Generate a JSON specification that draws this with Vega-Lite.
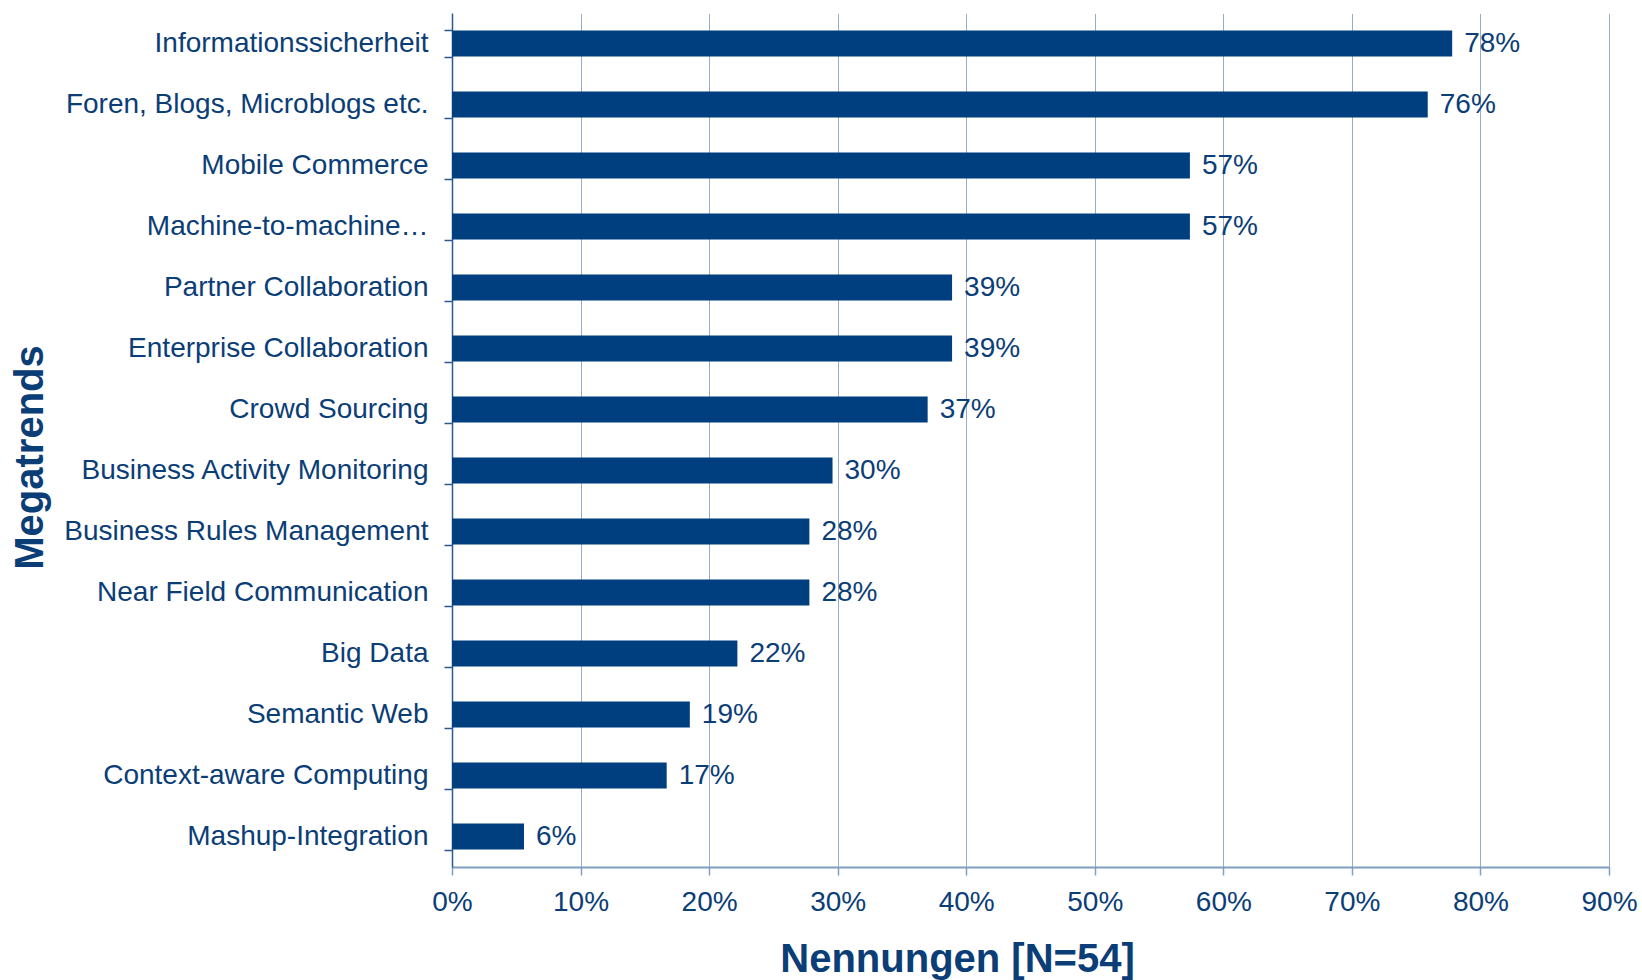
{
  "$schema": "https://vega.github.io/schema/vega-lite/v6.json",
  "width": 1157,
  "height": 854,
  "autosize": {"type": "none"},
  "padding": {"left": 452, "top": 13, "right": 33, "bottom": 113},
  "background": "white",
  "config": {
    "font": "Liberation Sans",
    "view": {"stroke": null}
  },
  "data": {
    "values": [
      {"trend": "Informationssicherheit", "anteil": 0.778},
      {"trend": "Foren, Blogs, Microblogs etc.", "anteil": 0.759},
      {"trend": "Mobile Commerce", "anteil": 0.574},
      {"trend": "Machine-to-machine…", "anteil": 0.574},
      {"trend": "Partner Collaboration", "anteil": 0.389},
      {"trend": "Enterprise Collaboration", "anteil": 0.389},
      {"trend": "Crowd Sourcing", "anteil": 0.370},
      {"trend": "Business Activity Monitoring", "anteil": 0.296},
      {"trend": "Business Rules Management", "anteil": 0.278},
      {"trend": "Near Field Communication", "anteil": 0.278},
      {"trend": "Big Data", "anteil": 0.222},
      {"trend": "Semantic Web", "anteil": 0.185},
      {"trend": "Context-aware Computing", "anteil": 0.167},
      {"trend": "Mashup-Integration", "anteil": 0.056}
    ]
  },
  "encoding": {
    "y": {
      "field": "trend",
      "type": "nominal",
      "sort": null,
      "scale": {"paddingInner": 0.57, "paddingOuter": 0.285},
      "axis": {
        "title": "Megatrends",
        "titleFont": "Liberation Sans",
        "titleFontSize": 40,
        "titleFontWeight": "bold",
        "titleColor": "#0b3d77",
        "titleAngle": -90,
        "titleX": -410,
        "titleY": 444,
        "titleAlign": "center",
        "titleBaseline": "alphabetic",
        "labelFontSize": 28,
        "labelColor": "#0b3d77",
        "labelPadding": 16,
        "labelLimit": 440,
        "tickBand": "extent",
        "tickSize": 8,
        "tickColor": "#2a5a90",
        "tickWidth": 1.5,
        "domainColor": "#2a5a90",
        "domainWidth": 1.5,
        "grid": false
      }
    },
    "x": {
      "field": "anteil",
      "type": "quantitative",
      "scale": {"domain": [0, 0.9], "nice": false},
      "axis": {
        "title": "Nennungen [N=54]",
        "titleFontSize": 40,
        "titleFontWeight": "bold",
        "titleColor": "#0b3d77",
        "titleX": 505,
        "titleY": 104,
        "titleAlign": "center",
        "titleBaseline": "alphabetic",
        "values": [0, 0.1, 0.2, 0.3, 0.4, 0.5, 0.6, 0.7, 0.8, 0.9],
        "format": ".0%",
        "labelFontSize": 28,
        "labelColor": "#0b3d77",
        "labelPadding": 13,
        "labelFlush": false,
        "tickSize": 8,
        "tickColor": "#7f9ec4",
        "tickWidth": 1.5,
        "domainColor": "#7f9ec4",
        "domainWidth": 2,
        "grid": true,
        "gridColor": "#2f5c94",
        "gridDash": [1, 1],
        "gridWidth": 1
      }
    }
  },
  "layer": [
    {
      "mark": {"type": "bar", "color": "#003f7f"}
    },
    {
      "mark": {"type": "text", "align": "left", "baseline": "middle", "dx": 12, "fontSize": 28, "color": "#0b3d77"},
      "encoding": {
        "text": {"field": "anteil", "type": "quantitative", "format": ".0%"}
      }
    }
  ]
}
